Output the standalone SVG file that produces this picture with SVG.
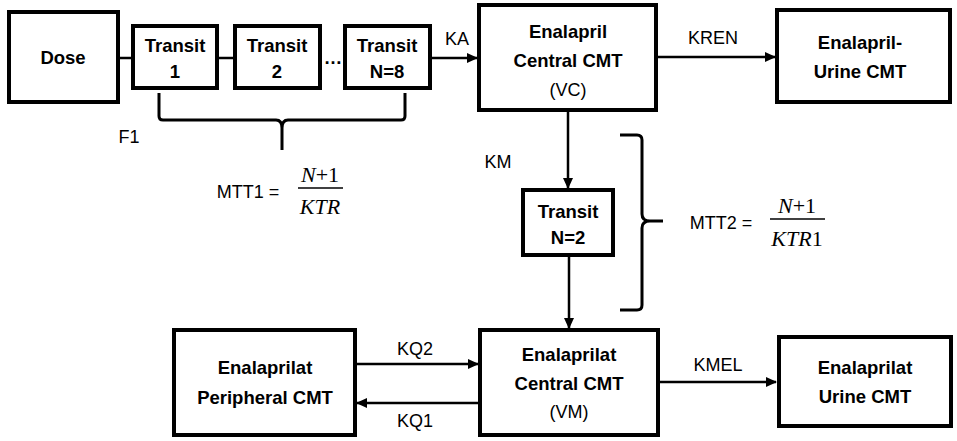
<svg xmlns="http://www.w3.org/2000/svg" width="957" height="441" viewBox="0 0 957 441">
<style>
.box{fill:#fff;stroke:#000;stroke-width:4}
.b{font-family:"Liberation Sans",Arial,sans-serif;font-weight:bold;font-size:18.5px;text-anchor:middle;fill:#000}
.n{font-family:"Liberation Sans",Arial,sans-serif;font-size:18px;text-anchor:middle;fill:#000}
.m{font-family:"Liberation Serif","Times New Roman",serif;font-size:22px;text-anchor:middle;fill:#000}
.c{stroke:#000;stroke-width:2.5;fill:none}
.br{stroke:#000;stroke-width:3;fill:none;stroke-linejoin:round}
</style>
<defs>
<marker id="ah" markerWidth="11" markerHeight="10" refX="10" refY="5" orient="auto" markerUnits="userSpaceOnUse">
<path d="M0,0 L11,5 L0,10 Z" fill="#000"/>
</marker>
</defs>
<g id="connectors">
<line class="c" x1="120" y1="58" x2="133" y2="58"/>
<line class="c" x1="219" y1="58" x2="233" y2="58"/>
<line class="c" x1="432" y1="58" x2="477" y2="58" marker-end="url(#ah)"/>
<line class="c" x1="658" y1="57" x2="775" y2="57" marker-end="url(#ah)"/>
<line class="c" x1="568" y1="112" x2="568" y2="188" marker-end="url(#ah)"/>
<line class="c" x1="569" y1="257" x2="569" y2="328" marker-end="url(#ah)"/>
<line class="c" x1="357" y1="364" x2="478" y2="364" marker-end="url(#ah)"/>
<line class="c" x1="478" y1="403" x2="357" y2="403" marker-end="url(#ah)"/>
<line class="c" x1="660" y1="382" x2="776" y2="382" marker-end="url(#ah)"/>
</g>
<g id="dose"><rect class="box" x="9" y="12" width="109" height="90"/><text class="b" x="63" y="64">Dose</text></g>
<g id="transit1"><rect class="box" x="133" y="26" width="84" height="62"/><text class="b" x="175" y="52">Transit</text><text class="b" x="175" y="78">1</text></g>
<g id="transit2"><rect class="box" x="235" y="26" width="85" height="62"/><text class="b" x="277" y="52">Transit</text><text class="b" x="277" y="78">2</text></g>
<text class="b" x="333" y="64">…</text>
<g id="transit8"><rect class="box" x="345" y="26" width="85" height="62"/><text class="b" x="387" y="52">Transit</text><text class="b" x="387" y="78">N=8</text></g>
<g id="enalapril-central"><rect class="box" x="479" y="5" width="177" height="105"/><text class="b" x="568" y="38">Enalapril</text><text class="b" x="568" y="67">Central CMT</text><text class="n" x="568" y="96">(VC)</text></g>
<g id="enalapril-urine"><rect class="box" x="777" y="10" width="173" height="92"/><text class="b" x="860" y="49">Enalapril-</text><text class="b" x="860" y="78">Urine CMT</text></g>
<g id="transit-n2"><rect class="box" x="523" y="190" width="90" height="65"/><text class="b" x="568" y="218">Transit</text><text class="b" x="568" y="244">N=2</text></g>
<g id="enalaprilat-peripheral"><rect class="box" x="174" y="330" width="181" height="105"/><text class="b" x="265" y="374">Enalaprilat</text><text class="b" x="265" y="404">Peripheral CMT</text></g>
<g id="enalaprilat-central"><rect class="box" x="480" y="330" width="178" height="105"/><text class="b" x="569" y="361">Enalaprilat</text><text class="b" x="569" y="390">Central CMT</text><text class="n" x="569" y="418">(VM)</text></g>
<g id="enalaprilat-urine"><rect class="box" x="779" y="337" width="172" height="89"/><text class="b" x="865" y="374">Enalaprilat</text><text class="b" x="865" y="403">Urine CMT</text></g>
<g id="labels">
<text class="n" x="457" y="45">KA</text>
<text class="n" x="713" y="44">KREN</text>
<text class="n" x="498" y="168">KM</text>
<text class="n" x="415" y="355">KQ2</text>
<text class="n" x="415" y="427">KQ1</text>
<text class="n" x="718" y="371">KMEL</text>
<text class="n" x="129" y="143">F1</text>
</g>
<g id="bracket1">
<path class="br" d="M159,93 V116 Q159,120 163,120 H276 Q282,120 282,128 V150 M282,128 Q282,120 288,120 H401 Q405,120 405,116 V93"/>
</g>
<g id="mtt1">
<text class="n" x="248" y="198">MTT1 =</text>
<text class="m" x="320" y="182"><tspan font-style="italic">N</tspan>+1</text>
<line x1="298" y1="188" x2="343" y2="188" stroke="#000" stroke-width="1.3"/>
<text class="m" x="320" y="214" font-style="italic">KTR</text>
</g>
<g id="bracket2">
<path class="br" d="M620,135 H637 Q642,135 642,140 V214 Q642,221 650,221 H663 M650,221 Q642,221 642,228 V305 Q642,310 637,310 H620"/>
</g>
<g id="mtt2">
<text class="n" x="721" y="229">MTT2 =</text>
<text class="m" x="797" y="213"><tspan font-style="italic">N</tspan>+1</text>
<line x1="770" y1="219" x2="825" y2="219" stroke="#000" stroke-width="1.3"/>
<text class="m" x="797" y="246"><tspan font-style="italic">KTR</tspan>1</text>
</g>
</svg>
